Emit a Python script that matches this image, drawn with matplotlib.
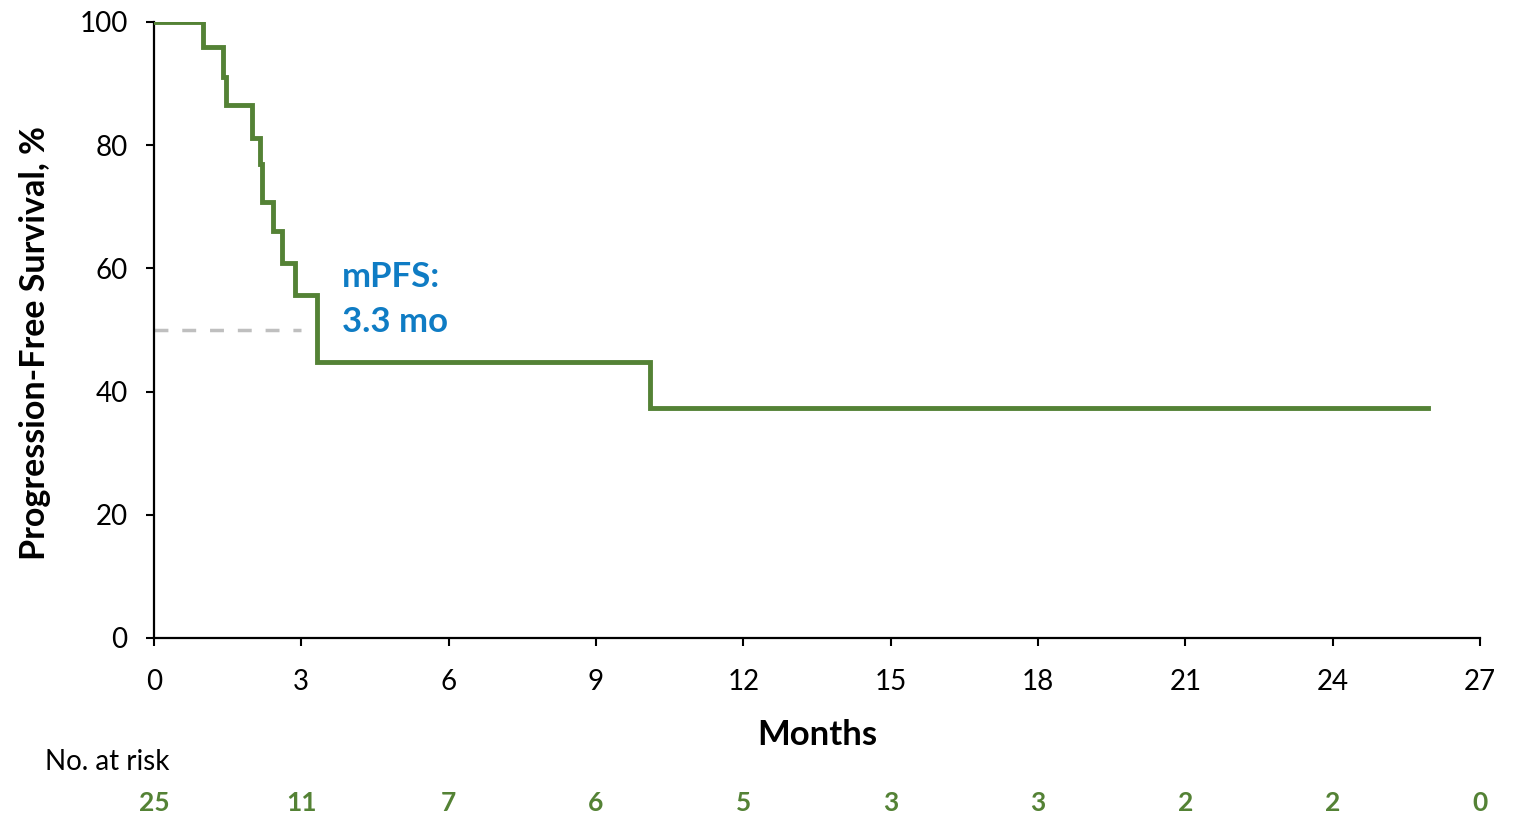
import numpy as np
import matplotlib.pyplot as plt

plt.rcParams['font.family'] = ['Lato', 'DejaVu Sans']

# Kaplan-Meier step points (months, % progression-free)
pfs_months = [0, 1.0, 1.41, 1.47, 2.0, 2.15, 2.2, 2.43, 2.61, 2.87, 3.31, 10.1, 25.95]
pfs_percent = [100, 96.0, 91.0, 86.6, 81.2, 77.0, 70.8, 66.0, 60.8, 55.7, 44.8, 37.3, 37.3]

median_pfs = 3.3
risk_months = [0, 3, 6, 9, 12, 15, 18, 21, 24, 27]
at_risk = [25, 11, 7, 6, 5, 3, 3, 2, 2, 0]

green = '#548235'
blue = '#0f7cc4'

fig = plt.figure(figsize=(15.17, 8.18), dpi=100)
ax = fig.add_axes([154 / 1517, 1 - 638 / 818, (1480 - 154) / 1517, (638 - 22) / 818])

ax.step(pfs_months, pfs_percent, where='post', color=green, lw=3.5,
        solid_joinstyle='miter', zorder=3)
ax.plot([0, 3.0], [50, 50], ls=(0, (4, 4)), color='#bfbfbf', lw=2.5, zorder=2)

ax.text(3.83, 58.6, 'mPFS:', color=blue, fontsize=25, fontweight='bold',
        va='center', ha='left')
ax.text(3.83, 51.3, f'{median_pfs} mo', color=blue, fontsize=25,
        fontweight='bold', va='center', ha='left')

ax.set_xlim(0, 27)
ax.set_ylim(0, 100)
ax.set_xticks(risk_months)
ax.set_yticks(np.arange(0, 101, 20))
ax.tick_params(axis='both', labelsize=20, length=6, width=1.5, direction='out')
ax.tick_params(axis='x', pad=16)
ax.tick_params(axis='y', pad=13)
for s in ['top', 'right']:
    ax.spines[s].set_visible(False)
for s in ['left', 'bottom']:
    ax.spines[s].set_linewidth(1.6)

ax.set_xlabel('Months', fontsize=25, fontweight='bold')
ax.set_ylabel('Progression-Free Survival, %', fontsize=24.5, fontweight='bold')
ax.xaxis.set_label_coords(0.5, -(81) / 616)
ax.yaxis.set_label_coords(-(103) / 1326, 0.479)

# number-at-risk table below the x axis
trans = ax.get_xaxis_transform()
fig.text(45 / 1517, 1 - 762 / 818, 'No. at risk', fontsize=20, va='center',
         ha='left', color='black')
for m, n in zip(risk_months, at_risk):
    ax.text(m, -(803 - 638) / 616, str(n), transform=trans, ha='center',
            va='center', fontsize=19, fontweight='bold', color=green,
            clip_on=False)

fig.savefig('out.png', dpi=100)
